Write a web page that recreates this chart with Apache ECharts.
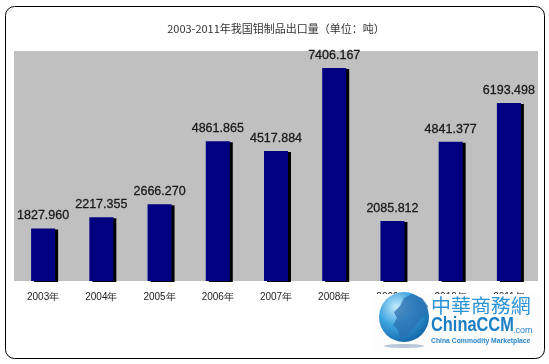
<!DOCTYPE html>
<html><head><meta charset="utf-8">
<script src="https://cdn.jsdelivr.net/npm/echarts@6/dist/echarts.min.js"></script>
<style>html,body{margin:0;padding:0;background:#fff}#c{width:549px;height:364px}</style>
</head><body><div id="c"></div>
<script>
const categories = ['2003年','2004年','2005年','2006年','2007年','2008年','2009年','2010年','2011年'];
const exportTons = [1827.960, 2217.355, 2666.270, 4861.865, 4517.884, 7406.167, 2085.812, 4841.377, 6193.498];
const titleText = '2003-2011年我国钼制品出口量（单位：吨）';

const chart = echarts.init(document.getElementById('c'));
chart.setOption({
  animation: false,
  backgroundColor: '#fff',
  title: {
    text: titleText, left: 271, top: 18, textAlign: 'center',
    textStyle: { fontSize: 11, fontWeight: 'normal', color: '#333', fontFamily: 'Noto Sans CJK SC' }
  },
  grid: { left: 14, right: 11, top: 51, bottom: 83, show: true, backgroundColor: '#c0c0c0', borderWidth: 0 },
  xAxis: {
    type: 'category', data: categories,
    axisLine: { show: false }, axisTick: { show: false },
    axisLabel: { margin: 11, fontSize: 10, color: '#222', fontFamily: 'Liberation Sans' }
  },
  yAxis: { type: 'value', min: 0, max: 8000, show: false, splitLine: { show: false } },
  series: [{
    type: 'bar', data: exportTons, barWidth: 24,
    itemStyle: { color: '#000080', shadowColor: '#000', shadowOffsetX: 3, shadowOffsetY: 1, shadowBlur: 0 },
    label: {
      show: true, position: 'top', distance: 6,
      formatter: p => p.value.toFixed(3),
      fontSize: 12.5, color: '#1a1a1a', fontFamily: 'Liberation Sans',
      textBorderColor: '#1a1a1a', textBorderWidth: 0.3
    }
  }],
  graphic: [
    { type: 'rect', shape: { x: 5.5, y: 6.5, width: 539, height: 352, r: 9 }, style: { fill: 'none', stroke: '#000', lineWidth: 1 }, z: 10 },
    { type: 'rect', shape: { x: 372, y: 294, width: 170, height: 60 }, style: { fill: '#fdfdfd' }, z: 20 },
    { type: 'ellipse', shape: { cx: 404, cy: 346, rx: 20, ry: 2 }, style: { fill: '#b8c8d8' }, z: 21 },
    { type: 'circle', shape: { cx: 404, cy: 317, r: 25 },
      style: { fill: new echarts.graphic.RadialGradient(0.35, 0.3, 0.8, [
        { offset: 0, color: '#c6ecfc' }, { offset: 0.45, color: '#3fa6e0' }, { offset: 1, color: '#0b5d9e' }]) }, z: 21 },
    { type: 'polygon', shape: { points: [[404,298],[412,294],[422,298],[428,306],[426,314],[420,320],[414,328],[406,336],[400,338],[398,330],[393,325],[397,318],[394,312],[400,306]] },
      style: { fill: '#2a6fb0', opacity: 0.75 }, z: 22 },
    { type: 'text', x: 431, y: 296, scaleX: 1.05, style: { text: '中華商務網', x: 0, y: 0, fontSize: 19, fill: '#2b93d6', fontFamily: 'Noto Sans CJK TC' }, z: 22 },
    { type: 'text', x: 431, y: 315, scaleX: 0.78, style: { text: 'ChinaCCM', x: 0, y: 0, fontSize: 21, fontWeight: 'bold', fill: '#1b7dc4', fontFamily: 'Liberation Sans' }, z: 22 },
    { type: 'text', x: 513, y: 326, style: { text: '.com', x: 0, y: 0, fontSize: 9, fill: '#1b7dc4', fontFamily: 'Liberation Sans' }, z: 22 },
    { type: 'text', x: 431, y: 337, scaleX: 0.85, style: { text: 'China Commodity Marketplace', x: 0, y: 0, fontSize: 8, fill: '#2b86c8', fontFamily: 'Liberation Sans', fontWeight: 'bold' }, z: 22 }
  ]
});
</script></body></html>
